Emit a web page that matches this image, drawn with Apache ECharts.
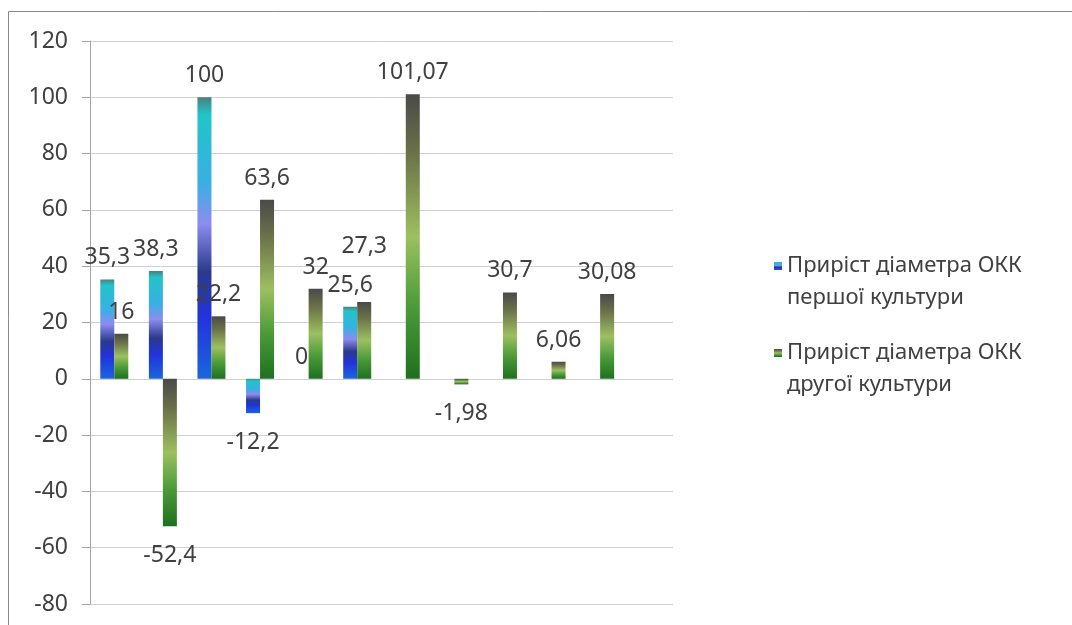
<!DOCTYPE html>
<html>
<head>
<meta charset="utf-8">
<script src="https://cdn.jsdelivr.net/npm/echarts@6/dist/echarts.min.js"></script>
<style>
  html, body { margin: 0; padding: 0; background: #fff; }
  #chart { width: 1072px; height: 625px; }
</style>
</head>
<body>
<div id="chart"></div>
<script>
var categories = ['1', '2', '3', '4', '5', '6', '7', '8', '9', '10', '11', '12'];
var firstCulture = [35.3, 38.3, 100, -12.2, 0, 25.6, null, null, null, null, null, null];
var secondCulture = [16, -52.4, 22.2, 63.6, 32, 27.3, 101.07, -1.98, 30.7, 6.06, 30.08, null];
var seriesNames = ['Приріст діаметра ОКК\nпершої культури', 'Приріст діаметра ОКК\nдругої культури'];
var yTicks = [-80, -60, -40, -20, 0, 20, 40, 60, 80, 100, 120];

var font = '"Noto Sans", sans-serif';

function toItems(arr) {
  return arr.map(function (v) {
    if (v === null) return null;
    if (v < 0) return { value: v, label: { position: 'bottom', distance: 18 } };
    return { value: v, label: { position: 'top' } };
  });
}

var blueStops = [
  { offset: 0, color: '#4a8080' },
  { offset: 0.06, color: '#22c4c8' },
  { offset: 0.3, color: '#38b0e4' },
  { offset: 0.45, color: '#8c8cf0' },
  { offset: 0.62, color: '#2a3a8c' },
  { offset: 0.78, color: '#2233dd' },
  { offset: 1, color: '#1a66dd' }
];
var greenStops = [
  { offset: 0, color: '#4a4a4a' },
  { offset: 0.2, color: '#6a7048' },
  { offset: 0.5, color: '#9cc060' },
  { offset: 0.75, color: '#4a9a38' },
  { offset: 1, color: '#1e701e' }
];
var blueGrad = new echarts.graphic.LinearGradient(0, 0, 0, 1, blueStops);
var greenGrad = new echarts.graphic.LinearGradient(0, 0, 0, 1, greenStops);

var labelStyle = {
  show: true,
  distance: 10,
  fontFamily: font,
  fontSize: 23,
  color: '#404040',
  formatter: function (p) { return String(p.value).replace('.', ','); }
};

// square at the top of a tall icon so it lines up with the first text line
var legendIcon = 'path://M0,0h8v8h-8z M0,39.9h0.1v0.1h-0.1z';

var myChart = echarts.init(document.getElementById('chart'));
var option = {
  backgroundColor: '#fff',
  animation: false,
  graphic: [{
    type: 'rect',
    shape: { x: 8.5, y: 11.5, width: 1200, height: 800 },
    style: { fill: 'none', stroke: '#8a8a8a', lineWidth: 1 },
    silent: true
  }],
  grid: { left: 90, right: 399, top: 41, bottom: 21 },
  legend: {
    orient: 'vertical',
    left: 774,
    top: 250,
    padding: 0,
    icon: legendIcon,
    itemWidth: 8,
    itemHeight: 40,
    itemGap: 23,
    textStyle: {
      fontFamily: font,
      fontSize: 22,
      color: '#404040',
      lineHeight: 32
    },
    data: [
      { name: seriesNames[0], itemStyle: { color: new echarts.graphic.LinearGradient(0, 0, 0, 0.2, blueStops) } },
      { name: seriesNames[1], itemStyle: { color: new echarts.graphic.LinearGradient(0, 0, 0, 0.2, greenStops) } }
    ]
  },
  xAxis: {
    type: 'category',
    data: categories,
    axisLine: { show: false },
    axisTick: { show: false },
    axisLabel: { show: false }
  },
  yAxis: {
    type: 'value',
    min: yTicks[0],
    max: yTicks[yTicks.length - 1],
    interval: 20,
    axisLine: { show: true, lineStyle: { color: '#a6a6a6' } },
    axisTick: { show: true, length: 8, lineStyle: { color: '#a6a6a6' } },
    axisLabel: { fontFamily: font, fontSize: 23, color: '#404040', margin: 22 },
    splitLine: { lineStyle: { color: '#d0d0d0' } }
  },
  series: [
    {
      name: seriesNames[0],
      type: 'bar',
      barWidth: 14,
      barGap: '0%',
      itemStyle: { color: blueGrad },
      label: labelStyle,
      data: toItems(firstCulture)
    },
    {
      name: seriesNames[1],
      type: 'bar',
      barWidth: 14,
      barGap: '0%',
      itemStyle: { color: greenGrad },
      label: labelStyle,
      // lift the label when it would collide with the neighbouring blue one
      labelLayout: function (params) {
        var a = firstCulture[params.dataIndex];
        var b = secondCulture[params.dataIndex];
        if (a != null && a > 0 && b > 0 && Math.abs(a - b) < 8) {
          return { dy: -34 };
        }
        return {};
      },
      data: toItems(secondCulture)
    }
  ]
};
myChart.setOption(option, true);
</script>
</body>
</html>
